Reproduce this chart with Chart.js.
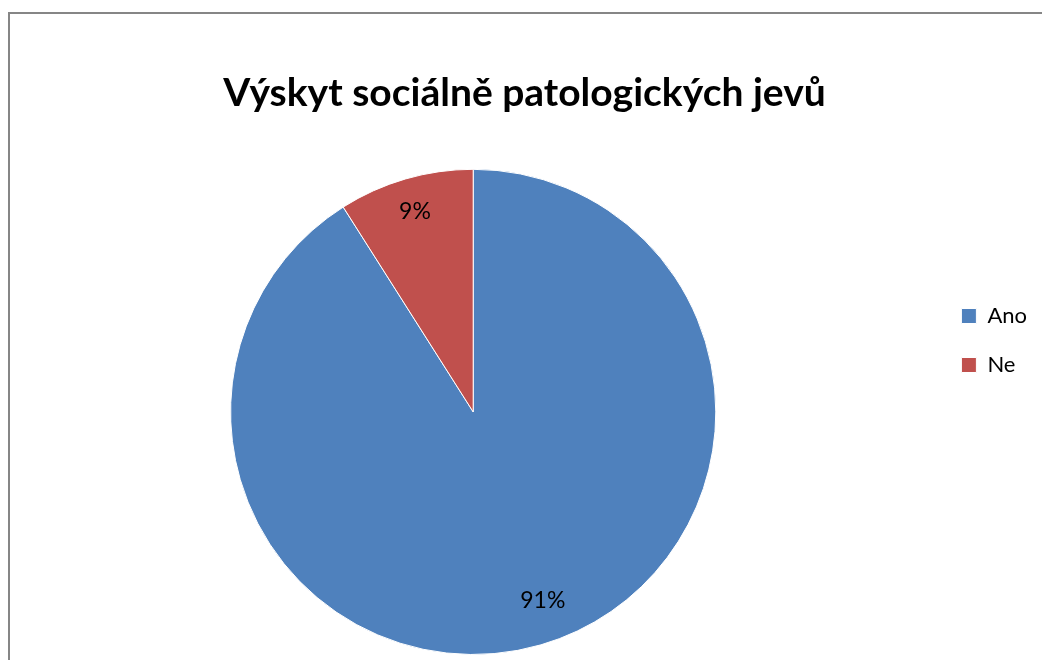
<!DOCTYPE html>
<html>
<head>
<meta charset="utf-8">
<script src="https://cdn.jsdelivr.net/npm/chart.js@4"></script>
<style>
    body { margin: 0; background: #fff; overflow: hidden; }
    .frame {
        position: absolute; left: 8px; top: 12px;
        width: 1100px; height: 700px;
        border: 2px solid #868686;
    }
    .chart-container { position: absolute; left: 0; top: 0; width: 1042px; height: 660px; }
</style>
</head>
<body>
<div class="frame"></div>
<div class="chart-container"><canvas id="myPieChart"></canvas></div>
<script>
    // Chart data
    const chartTitle = 'Výskyt sociálně patologických jevů';
    const categories = ['Ano', 'Ne'];
    const values = [91, 9];
    const sliceColors = ['#4F81BD', '#C0504D'];

    // Percent labels inside the slices
    const pieLabels = {
        id: 'pieLabels',
        afterDatasetsDraw(chart) {
            const ctx = chart.ctx;
            const meta = chart.getDatasetMeta(0);
            const total = values.reduce((a, b) => a + b, 0);
            ctx.save();
            ctx.font = '23px Lato';
            ctx.fillStyle = '#000';
            ctx.textAlign = 'center';
            ctx.textBaseline = 'middle';
            meta.data.forEach(function (arc, i) {
                const p = arc.getProps(['x', 'y', 'startAngle', 'endAngle', 'outerRadius'], true);
                // Excel puts the big slice label a bit off its mid angle
                const mid = (p.startAngle + p.endAngle) / 2 - (i === 0 ? 0.07 : 0);
                const r = p.outerRadius * (i === 0 ? 0.83 : 0.86);
                const pct = Math.round(values[i] / total * 100) + '%';
                ctx.fillText(pct, p.x + Math.cos(mid) * r, p.y + Math.sin(mid) * r);
            });
            ctx.restore();
        }
    };

    const ctxPie = document.getElementById('myPieChart').getContext('2d');
    new Chart(ctxPie, {
        type: 'pie',
        data: {
            labels: categories,
            datasets: [{
                data: values,
                backgroundColor: sliceColors,
                borderColor: '#ffffff',
                borderWidth: 1
            }]
        },
        options: {
            responsive: true,
            maintainAspectRatio: false,
            animation: false,
            layout: {
                padding: { top: 26, left: 12, right: 5, bottom: 5 }
            },
            plugins: {
                title: {
                    display: true,
                    text: chartTitle,
                    color: '#000',
                    font: { family: 'Lato', size: 39, weight: 'bold', lineHeight: 1.2 },
                    padding: { top: 44, bottom: 52 }
                },
                legend: {
                    position: 'right',
                    labels: {
                        color: '#000',
                        font: { family: 'Lato', size: 22 },
                        boxWidth: 15,
                        boxHeight: 15,
                        padding: 27
                    }
                },
                tooltip: { enabled: false }
            }
        },
        plugins: [pieLabels]
    });
</script>
</body>
</html>
